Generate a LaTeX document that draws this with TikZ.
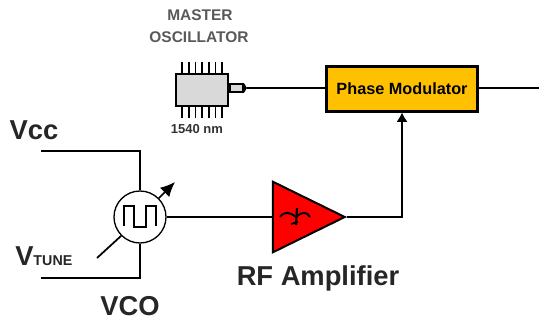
\documentclass[tikz,border=0pt]{standalone}
\usepackage{fontspec}
\setmainfont{Liberation Sans}
\usepackage{xcolor}
\usetikzlibrary{positioning, arrows.meta, shapes.geometric}
\definecolor{modfill}{RGB}{255,192,0}
\definecolor{ampfill}{RGB}{255,0,0}
\definecolor{chipfill}{RGB}{217,217,217}
\tikzset{
  wire/.style={line width=1.6pt, line join=miter},
  pin/.style={line width=1.3pt},
  biglabel/.style={font=\bfseries\fontsize{20.5}{22}\selectfont, text=black!85, inner sep=0pt},
  smalllabel/.style={font=\bfseries\fontsize{11.6}{13}\selectfont, text=black!65, inner sep=0pt}
}

\begin{document}
\begin{tikzpicture}[x=0.75pt,y=0.75pt,yscale=-1,xscale=1]
\useasboundingbox (0,0) rectangle (539,321);
%Master oscillator pins
\foreach \px in {182,188.7,195.4,202.1,208.8,215.5,222.2} {
  \draw [pin] (\px,62) -- (\px,118) ;
}
%Master oscillator
\node [draw, fill=chipfill, line width=1.5pt, minimum width=39pt, minimum height=24pt, inner sep=0pt] (chip) at (201.5,90.5) {};
\node [draw, fill=chipfill, line width=1.5pt, minimum width=10pt, minimum height=6pt, inner sep=0pt, anchor=west] (port) at (chip.east |- 0,88) {};
\coordinate (portend) at (247,88);
\fill (port.north east) -- (portend) -- (port.south east) -- cycle;
\node [smalllabel] (master) at (200,15) {MASTER};
\node [smalllabel] (osc) at (199,37) {OSCILLATOR};
\node [inner sep=0pt, font=\bfseries\fontsize{9.75}{11}\selectfont, text=black!80] (wavelen) at (197,129) {1540 nm};
%Phase modulator
\node [draw, fill=modfill, line width=1.8pt, minimum width=113pt, minimum height=33.5pt, inner sep=0pt, font=\bfseries\fontsize{12.2}{14}\selectfont] (pm) at (402,89) {Phase Modulator};
\coordinate (out) at (539,88);
\draw [wire] (portend) -- (pm.west |- portend) ;
\draw [wire] (pm.east |- out) -- (out) ;
%VCO
\node [draw, circle, fill=white, line width=1pt, minimum size=39pt, inner sep=0pt] (vco) at (140,217) {};
\draw [line width=1.2pt] (124,226) -- (124,206) -- (134,206) -- (134,227) -- (146,227) -- (146,206) -- (156,206) -- (156,226) ;
\coordinate (vcctop) at (41,151);
\coordinate (vccbot) at (41,278);
\coordinate (tune) at (97,258);
\coordinate (tip) at (175,182);
\draw [wire] (vcctop) -| (vco.north) ;
\draw [wire] (vccbot) -| (vco.south) ;
\draw [wire, line width=1.3pt] (tune) -- (vco.225) ;
\draw [line width=1.3pt, -{Latex[length=11pt,width=10pt]}] (vco.45) -- (tip) ;
\node [biglabel] (vcc) at (34,130) {Vcc};
\node [biglabel, anchor=west] (vtune) at (15,256) {V\fontsize{10.7}{12}\selectfont TUNE};
\node [biglabel] (vcolabel) at (130,306) {VCO};
%RF amplifier
\node [draw, fill=ampfill, line width=1.5pt, isosceles triangle, isosceles triangle apex angle=53, isosceles triangle stretches, minimum width=53pt, minimum height=54pt, inner sep=0pt, anchor=apex] (amp) at (347,217) {};
\draw [line width=1.5pt] (280,217) .. controls (284,211) and (290,212) .. (296,217) .. controls (301,212) and (307,211) .. (310,217) ;
\draw [line width=1.6pt] (297,208) -- (296,225) ;
\draw [line width=1.3pt] (291,224) -- (298,222) ;
\draw [wire] (vco.east) -- (amp.west |- vco.east) ;
\draw [wire, -{Latex[length=7pt,width=8.5pt]}] (amp.apex) -| (pm.south) ;
\node [biglabel] (rflabel) at (318,278) {RF Amplifier};
\end{tikzpicture}
\end{document}
